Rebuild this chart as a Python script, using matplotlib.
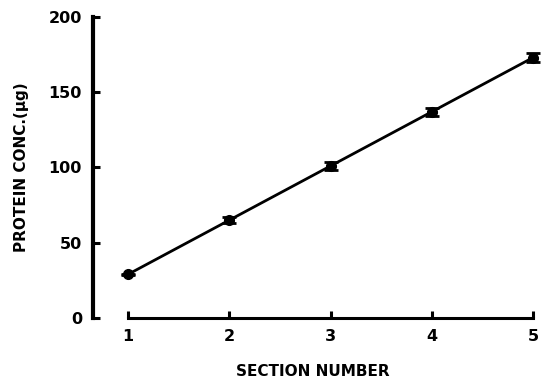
import matplotlib.pyplot as plt
import numpy as np

# Protein concentration per section
section = np.array([1, 2, 3, 4, 5])
protein = np.array([29, 65, 101, 137, 173])
protein_err = np.array([0.5, 2.0, 2.5, 2.5, 3.0])

plt.rcParams['font.family'] = 'DejaVu Sans'
plt.rcParams['font.weight'] = 'bold'

fig = plt.figure(figsize=(5.42, 3.85), dpi=100)
ax = fig.add_axes([0.1716, 0.174, 0.8118, 0.782])

eb = ax.errorbar(section, protein, yerr=protein_err, color='black', linewidth=2,
                 marker='o', markersize=7, capsize=5, capthick=2, elinewidth=2)
for artist in eb.lines[0:1] + eb.lines[1] + eb.lines[2]:
    artist.set_clip_on(False)

ax.set_xlim(0.654, 5.0)
ax.set_ylim(0, 200)
ax.spines['top'].set_visible(False)
ax.spines['right'].set_visible(False)
ax.spines['bottom'].set_bounds(1, 5)
ax.spines['left'].set_linewidth(3)
ax.spines['bottom'].set_linewidth(2.2)

ax.set_xticks(section)
ax.set_xticklabels(['1', '2', '3', '4', '5'])
ax.set_yticks([0, 50, 100, 150, 200])
ax.tick_params(axis='both', direction='in', length=5, width=2.2, labelsize=11.5, pad=8)

ax.set_xlabel('SECTION NUMBER', fontsize=11, fontweight='bold', labelpad=14)
ax.set_ylabel('PROTEIN CONC.(\u03bcg)', fontsize=11, fontweight='bold', labelpad=14)

fig.savefig('out.png', dpi=100)
